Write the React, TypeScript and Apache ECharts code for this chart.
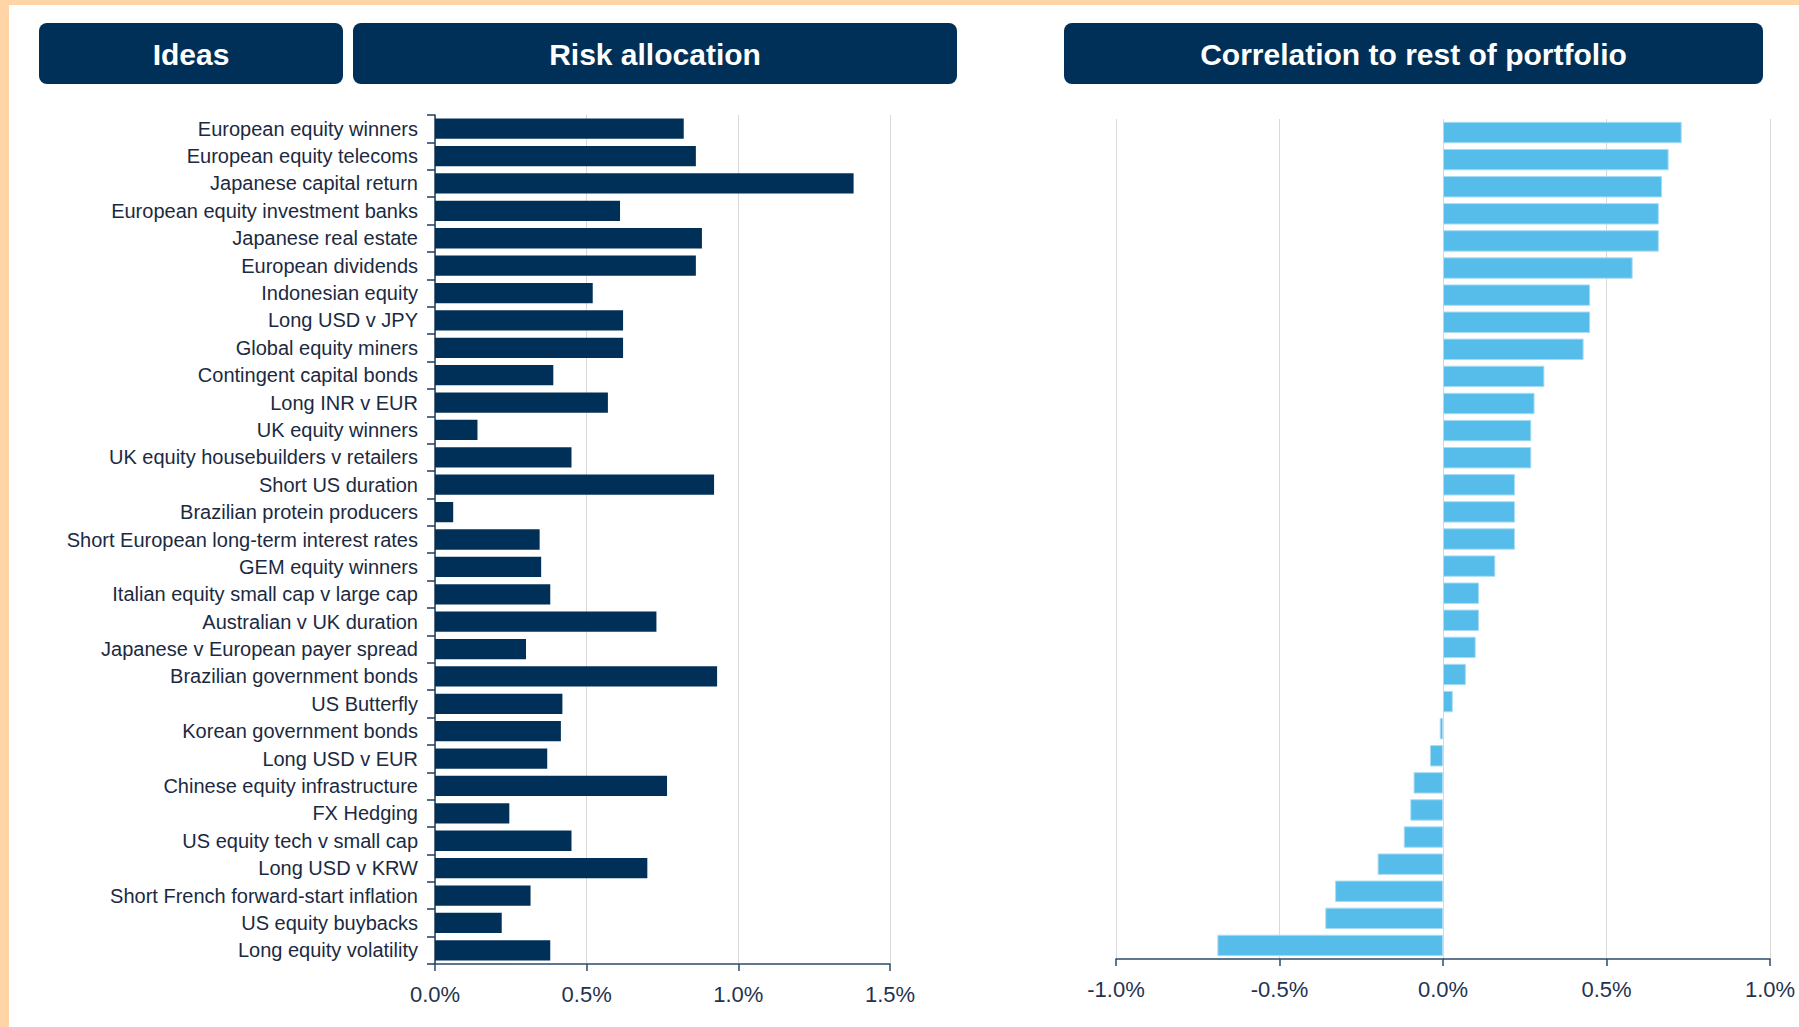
import React, { useEffect, useRef } from "react";
import * as echarts from "echarts";

const categories = [
  "European equity winners",
  "European equity telecoms",
  "Japanese capital return",
  "European equity investment banks",
  "Japanese real estate",
  "European dividends",
  "Indonesian equity",
  "Long USD v JPY",
  "Global equity miners",
  "Contingent capital bonds",
  "Long INR v EUR",
  "UK equity winners",
  "UK equity housebuilders v retailers",
  "Short US duration",
  "Brazilian protein producers",
  "Short European long-term interest rates",
  "GEM equity winners",
  "Italian equity small cap v large cap",
  "Australian v UK duration",
  "Japanese v European payer spread",
  "Brazilian government bonds",
  "US Butterfly",
  "Korean government bonds",
  "Long USD v EUR",
  "Chinese equity infrastructure",
  "FX Hedging",
  "US equity tech v small cap",
  "Long USD v KRW",
  "Short French forward-start inflation",
  "US equity buybacks",
  "Long equity volatility",
];

// Risk allocation, % of portfolio
const riskAllocation = [
  0.82, 0.86, 1.38, 0.61, 0.88, 0.86, 0.52, 0.62, 0.62, 0.39, 0.57, 0.14,
  0.45, 0.92, 0.06, 0.345, 0.35, 0.38, 0.73, 0.3, 0.93, 0.42, 0.415, 0.37,
  0.765, 0.245, 0.45, 0.7, 0.315, 0.22, 0.38,
];

// Correlation to rest of portfolio, %
const correlation = [
  0.73, 0.69, 0.67, 0.66, 0.66, 0.58, 0.45, 0.45, 0.43, 0.31, 0.28, 0.27,
  0.27, 0.22, 0.22, 0.22, 0.16, 0.11, 0.11, 0.1, 0.07, 0.03, -0.01, -0.04,
  -0.09, -0.1, -0.12, -0.2, -0.33, -0.36, -0.69,
];

const headerTitles = ["Ideas", "Risk allocation", "Correlation to rest of portfolio"];

const FONT = '"Liberation Sans", Arial, sans-serif';
const NAVY = "#003057";

export default function App() {
  const ref = useRef<HTMLDivElement>(null);

  useEffect(() => {
    document.body.style.margin = "0";
    if (!ref.current) return;
    const chart = echarts.init(ref.current, undefined, { renderer: "svg" });

    const pct = (v: number) => v.toFixed(1) + "%";

    const headerBoxes = [
      { x: 39, y: 23, w: 304, h: 61 },
      { x: 353, y: 23, w: 604, h: 61 },
      { x: 1064, y: 23, w: 699, h: 61 },
    ];

    const graphic: any[] = [
      { type: "rect", shape: { x: 0, y: 0, width: 1799, height: 5 }, style: { fill: "#FFD4A6" }, silent: true },
      { type: "rect", shape: { x: 0, y: 0, width: 9, height: 1027 }, style: { fill: "#FFD4A6" }, silent: true },
    ];
    headerBoxes.forEach((b, i) => {
      graphic.push({
        type: "rect",
        shape: { x: b.x, y: b.y, width: b.w, height: b.h, r: 8 },
        style: { fill: NAVY },
        silent: true,
      });
      graphic.push({
        type: "text",
        x: b.x + b.w / 2,
        y: b.y + b.h / 2 + 1,
        style: {
          text: headerTitles[i],
          fill: "#ffffff",
          font: `bold 30px ${FONT}`,
          align: "center",
          verticalAlign: "middle",
          textAlign: "center",
          textVerticalAlign: "middle",
        },
        silent: true,
      });
    });

    const axisLabelStyle = {
      formatter: pct,
      fontSize: 22,
      color: "#1f3350",
      fontFamily: FONT,
      margin: 19,
    };

    chart.setOption({
      animation: false,
      backgroundColor: "#ffffff",
      textStyle: { fontFamily: FONT },
      graphic,
      grid: [
        { left: 435, top: 115, width: 455, height: 849 },
        { left: 1116, top: 119, width: 654, height: 840 },
      ],
      xAxis: [
        {
          gridIndex: 0,
          type: "value",
          min: 0,
          max: 1.5,
          interval: 0.5,
          axisLine: { show: true, lineStyle: { color: "#2d4a6a", width: 1.5 } },
          axisTick: { show: true, length: 7, lineStyle: { color: "#2d4a6a", width: 1.5 } },
          axisLabel: axisLabelStyle,
          splitLine: { show: true, lineStyle: { color: "#d9d9d9", width: 1 } },
        },
        {
          gridIndex: 1,
          type: "value",
          min: -1,
          max: 1,
          interval: 0.5,
          axisLine: { show: true, onZero: false, lineStyle: { color: "#2d4a6a", width: 1.5 } },
          axisTick: { show: true, length: 7, lineStyle: { color: "#2d4a6a", width: 1.5 } },
          axisLabel: axisLabelStyle,
          splitLine: { show: true, lineStyle: { color: "#d9d9d9", width: 1 } },
        },
      ],
      yAxis: [
        {
          gridIndex: 0,
          type: "category",
          data: categories,
          inverse: true,
          axisLine: { show: true, lineStyle: { color: "#1f3b5c", width: 1.5 } },
          axisTick: { show: true, length: 8, lineStyle: { color: "#1f3b5c", width: 1.5 } },
          axisLabel: { fontSize: 20, color: "#1b2a41", fontFamily: FONT, margin: 17 },
          splitLine: { show: false },
        },
        {
          gridIndex: 1,
          type: "category",
          data: categories,
          inverse: true,
          axisLine: { show: false },
          axisTick: { show: false },
          axisLabel: { show: false },
          splitLine: { show: false },
        },
      ],
      series: [
        {
          type: "bar",
          name: "Risk allocation",
          xAxisIndex: 0,
          yAxisIndex: 0,
          data: riskAllocation,
          barCategoryGap: "26%",
          itemStyle: { color: NAVY },
        },
        {
          type: "bar",
          name: "Correlation to rest of portfolio",
          xAxisIndex: 1,
          yAxisIndex: 1,
          data: correlation,
          barCategoryGap: "21%",
          itemStyle: { color: "#56BCEA", borderColor: "#a9dcf4", borderWidth: 1 },
        },
      ],
    });

    return () => chart.dispose();
  }, []);

  return (
    <div
      ref={ref}
      style={{ position: "absolute", left: 0, top: 0, width: 1799, height: 1027 }}
    />
  );
}
